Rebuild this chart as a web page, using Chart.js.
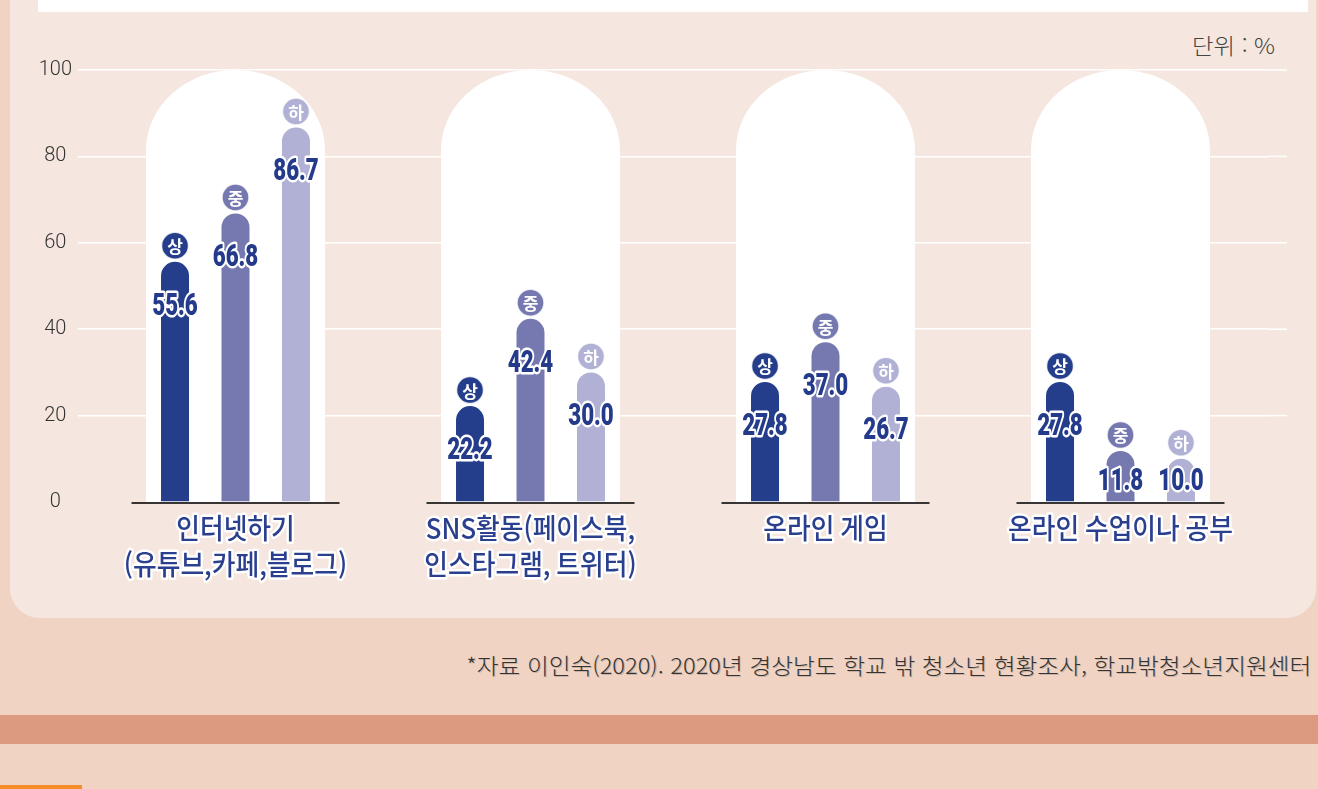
<!DOCTYPE html>
<html lang="ko">
<head>
<meta charset="utf-8">
<script src="https://cdn.jsdelivr.net/npm/chart.js@4/dist/chart.umd.min.js"></script>
<style>
  html, body { margin: 0; padding: 0; }
  body { width: 1318px; height: 789px; overflow: hidden; background: #F0D3C3; position: relative; font-family: "Noto Sans CJK KR", "Noto Sans", sans-serif; }
  #panel { position: absolute; left: 10px; top: 0; width: 1306px; height: 618px; background: #F5E7DF; border-radius: 0 0 30px 30px; }
  #whitebox { position: absolute; left: 38px; top: 0; width: 1270px; height: 12px; background: #ffffff; }
  #stripe { position: absolute; left: 0; top: 715px; width: 1318px; height: 29px; background: #DC9A80; }
  #orange { position: absolute; left: 0; top: 785px; width: 82px; height: 4px; background: #F68B2A; }
  #unit { position: absolute; right: 43px; top: 28px; font-size: 22px; font-weight: 300; color: #444; white-space: nowrap; transform-origin: right center; }
  #source { position: absolute; right: 7px; top: 648px; font-size: 22px; font-weight: 300; color: #333; white-space: nowrap; transform-origin: right center; text-shadow: 1px 1px 0 rgba(0,0,0,0.18); }
  #wrap { position: absolute; left: 0; top: 0; width: 1318px; height: 620px; }
</style>
</head>
<body>
<div id="panel"></div>
<div id="whitebox"></div>
<div id="stripe"></div>
<div id="orange"></div>
<div id="unit">단위 : %</div>
<div id="source">*자료 이인숙(2020). 2020년 경상남도 학교 밖 청소년 현황조사, 학교밖청소년지원센터</div>
<div id="wrap"><canvas id="chart" width="1318" height="620"></canvas></div>
<script>
// ---- data ----
const categories = [
  ["인터넷하기", "(유튜브,카페,블로그)"],
  ["SNS활동(페이스북,", "인스타그램, 트위터)"],
  ["온라인 게임"],
  ["온라인 수업이나 공부"]
];
const seriesNames = ["상", "중", "하"];
const highValues = [55.6, 22.2, 27.8, 27.8];
const midValues  = [66.8, 42.4, 37.0, 11.8];
const lowValues  = [86.7, 30.0, 26.7, 10.0];
const yTicks = [0, 20, 40, 60, 80, 100];

// ---- styles ----
const barColors = ["#243E8C", "#7678B0", "#B0B1D4"];
const labelNavy = "#243A8A";

// fit text widths to the reference
function fitWidth(id, target) {
  const el = document.getElementById(id);
  const w = el.getBoundingClientRect().width;
  el.style.transform = 'scaleX(' + (target / w) + ')';
}
fitWidth('source', 845);
fitWidth('unit', 83);

const bgPlugin = {
  id: 'bgDecor',
  beforeDatasetsDraw(chart) {
    const ctx = chart.ctx;
    const xs = chart.scales.x, ys = chart.scales.y;
    const area = chart.chartArea;
    ctx.save();
    ctx.strokeStyle = '#ffffff';
    ctx.lineWidth = 1.5;
    yTicks.forEach(v => {
      if (v === 0) return;
      const y = ys.getPixelForValue(v);
      ctx.beginPath();
      ctx.moveTo(area.right, y);
      ctx.lineTo(area.right + 19, y);
      ctx.stroke();
    });
    const top = ys.getPixelForValue(100);
    const base = ys.getPixelForValue(0);
    const rx = 89.5, ry = 80;
    ctx.fillStyle = '#ffffff';
    categories.forEach((c, i) => {
      const cx = xs.getPixelForValue(i);
      ctx.beginPath();
      ctx.moveTo(cx - rx, base);
      ctx.lineTo(cx - rx, top + ry);
      ctx.ellipse(cx, top + ry, rx, ry, 0, Math.PI, 2 * Math.PI);
      ctx.lineTo(cx + rx, base);
      ctx.closePath();
      ctx.fill();
    });
    ctx.restore();
  },
  afterDatasetsDraw(chart) {
    const ctx = chart.ctx;
    const xs = chart.scales.x, ys = chart.scales.y;
    const base = ys.getPixelForValue(0);
    ctx.save();
    ctx.strokeStyle = '#3a3535';
    ctx.lineWidth = 2;
    categories.forEach((c, i) => {
      const cx = xs.getPixelForValue(i);
      ctx.beginPath();
      ctx.moveTo(cx - 104, base + 1);
      ctx.lineTo(cx + 104, base + 1);
      ctx.stroke();
    });
    chart.data.datasets.forEach((ds, di) => {
      const meta = chart.getDatasetMeta(di);
      meta.data.forEach((el, i) => {
        const x = el.x, top = el.y;
        const by = top - 16;
        ctx.beginPath();
        ctx.arc(x, by, 13.5, 0, 2 * Math.PI);
        ctx.fillStyle = barColors[di];
        ctx.fill();
        ctx.lineWidth = 1.5;
        ctx.strokeStyle = 'rgba(255,255,255,0.8)';
        ctx.stroke();
        ctx.font = 'bold 17px "Noto Sans CJK KR"';
        ctx.fillStyle = '#ffffff';
        ctx.textAlign = 'center';
        ctx.textBaseline = 'middle';
        ctx.fillText(seriesNames[di], x, by + 1);
        const vy = Math.min(top + 44, base - 21);
        ctx.save();
        ctx.translate(x, vy);
        ctx.scale(0.72, 1);
        ctx.font = '900 31px Roboto, "Liberation Sans", sans-serif';
        ctx.textAlign = 'center';
        ctx.textBaseline = 'middle';
        ctx.lineJoin = 'round';
        ctx.lineWidth = 5;
        ctx.strokeStyle = '#ffffff';
        const t = Number(ds.data[i]).toFixed(1);
        ctx.strokeText(t, 0, 1);
        ctx.fillStyle = labelNavy;
        ctx.fillText(t, 0, 1);
        ctx.restore();
      });
    });
    categories.forEach((lines, i) => {
      const cx = xs.getPixelForValue(i);
      lines.forEach((line, li) => {
        ctx.save();
        ctx.translate(cx, base + 26 + li * 36);
        ctx.scale(0.92, 1);
        ctx.font = '500 28px "Noto Sans CJK KR"';
        ctx.textAlign = 'center';
        ctx.textBaseline = 'middle';
        ctx.lineJoin = 'round';
        ctx.lineWidth = 5;
        ctx.strokeStyle = '#ffffff';
        ctx.strokeText(line, 0, 0);
        ctx.fillStyle = '#2B3F8F';
        ctx.fillText(line, 0, 0);
        ctx.restore();
      });
    });
    ctx.restore();
  }
};

new Chart(document.getElementById('chart'), {
  type: 'bar',
  data: {
    labels: categories,
    datasets: [
      { label: seriesNames[0], data: highValues, backgroundColor: barColors[0] },
      { label: seriesNames[1], data: midValues,  backgroundColor: barColors[1] },
      { label: seriesNames[2], data: lowValues,  backgroundColor: barColors[2] }
    ]
  },
  options: {
    responsive: false,
    animation: false,
    layout: { padding: { left: 0, right: 50, top: 70, bottom: 118 } },
    datasets: {
      bar: {
        categoryPercentage: 0.615,
        barPercentage: 0.463,
        borderRadius: { topLeft: 14, topRight: 14, bottomLeft: 0, bottomRight: 0 },
        borderSkipped: 'bottom'
      }
    },
    plugins: { legend: { display: false }, tooltip: { enabled: false } },
    scales: {
      x: { display: false },
      y: {
        min: 0, max: 100,
        afterFit: (s) => { s.width = 88; },
        afterBuildTicks: (s) => { s.ticks = yTicks.map(v => ({ value: v })); },
        ticks: {
          stepSize: 20,
          color: '#333333',
          font: { family: 'Roboto, "Liberation Sans", sans-serif', size: 20, weight: '300' },
          crossAlign: 'center',
          padding: 6
        },
        grid: {
          color: (c) => (c.tick && c.tick.value === 0) ? 'rgba(0,0,0,0)' : '#ffffff',
          lineWidth: 1.5,
          tickLength: 10
        },
        border: { display: false }
      }
    }
  },
  plugins: [bgPlugin]
});
</script>
</body>
</html>
